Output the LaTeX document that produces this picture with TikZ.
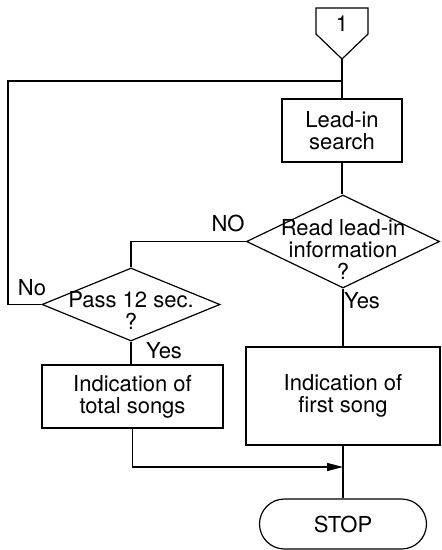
\documentclass[tikz,border=0pt]{standalone}
\usepackage{fontspec}
\setmainfont{TeX Gyre Heros}
\usepackage{tikz}
\usetikzlibrary{arrows.meta,positioning,shapes.geometric,shapes.misc}
\tikzset{
  procbox/.style={draw=black, line width=0.6pt, align=center, inner sep=0pt,
    font=\fontsize{11}{11}\selectfont},
  decide/.style={draw=black, line width=0.6pt, diamond, inner sep=0pt,
    align=center, font=\fontsize{11}{11}\selectfont},
  term/.style={draw=black, line width=0.6pt, rounded rectangle, inner sep=0pt,
    align=center, font=\fontsize{11}{11}\selectfont},
  lbl/.style={font=\fontsize{11}{11}\selectfont},
  wire/.style={line width=0.6pt},
  flow/.style={wire, -{Triangle[length=2.8mm, width=1.4mm]}}
}

\begin{document}
\begin{tikzpicture}[x=0.5pt, y=-0.5pt]
  \useasboundingbox (0,0) rectangle (442,550);

  % connector
  \node[lbl] (conn) at (342,24) {1};
  \draw[wire] (316,8) -- (368,8) -- (368,34) -- (342,59) -- (316,34) -- cycle;
  \coordinate (tip) at (342,59);
  \coordinate (j1) at (342,81);
  \coordinate (lft) at (8,81);

  % main column
  \node[procbox, minimum width=60pt, minimum height=31.5pt] (lead) at (342,130.5)
    {Lead-in\\search};
  \node[decide, minimum width=96.5pt, minimum height=46.5pt,
    label={[lbl, align=center, yshift=-4pt]center:Read lead-in\\information\\?}] (read) at (343,241.5) {};
  \node[procbox, minimum width=97pt, minimum height=49pt] (first) at (343,396)
    {Indication of\\first song};
  \node[term, minimum width=83.5pt, minimum height=25pt] (stop) at (343,524) {STOP};

  % side column
  \node[decide, minimum width=89pt, minimum height=36.5pt,
    label={[lbl, align=center, yshift=-3pt]center:Pass 12 sec.\\?}] (pass) at (131,304.5) {};
  \node[procbox, minimum width=90.5pt, minimum height=31.5pt] (total) at (132.5,396.5)
    {Indication of\\total songs};
  \coordinate (mrg) at (343,467);

  \draw[wire] (tip) -- (tip |- lead.north);
  \draw[wire] (lead.south) -- (lead.south |- read.north);
  \draw[wire] (read.south) -- (first.north);
  \draw[wire] (first.south) -- (stop.north);
  \draw[wire] (read.west) -| (pass.north);
  \draw[wire] (pass.west) -| (lft) -- (j1);
  \draw[wire] (pass.south) -- (pass.south |- total.north);
  \draw[flow] (total.south) |- (mrg);

  % branch labels
  \node[lbl] (lno) at (228,223) {NO};
  \node[lbl] (lyes) at (362,301) {Yes};
  \node[lbl] (sno) at (32,288) {No};
  \node[lbl] (syes) at (164,351) {Yes};
\end{tikzpicture}
\end{document}
